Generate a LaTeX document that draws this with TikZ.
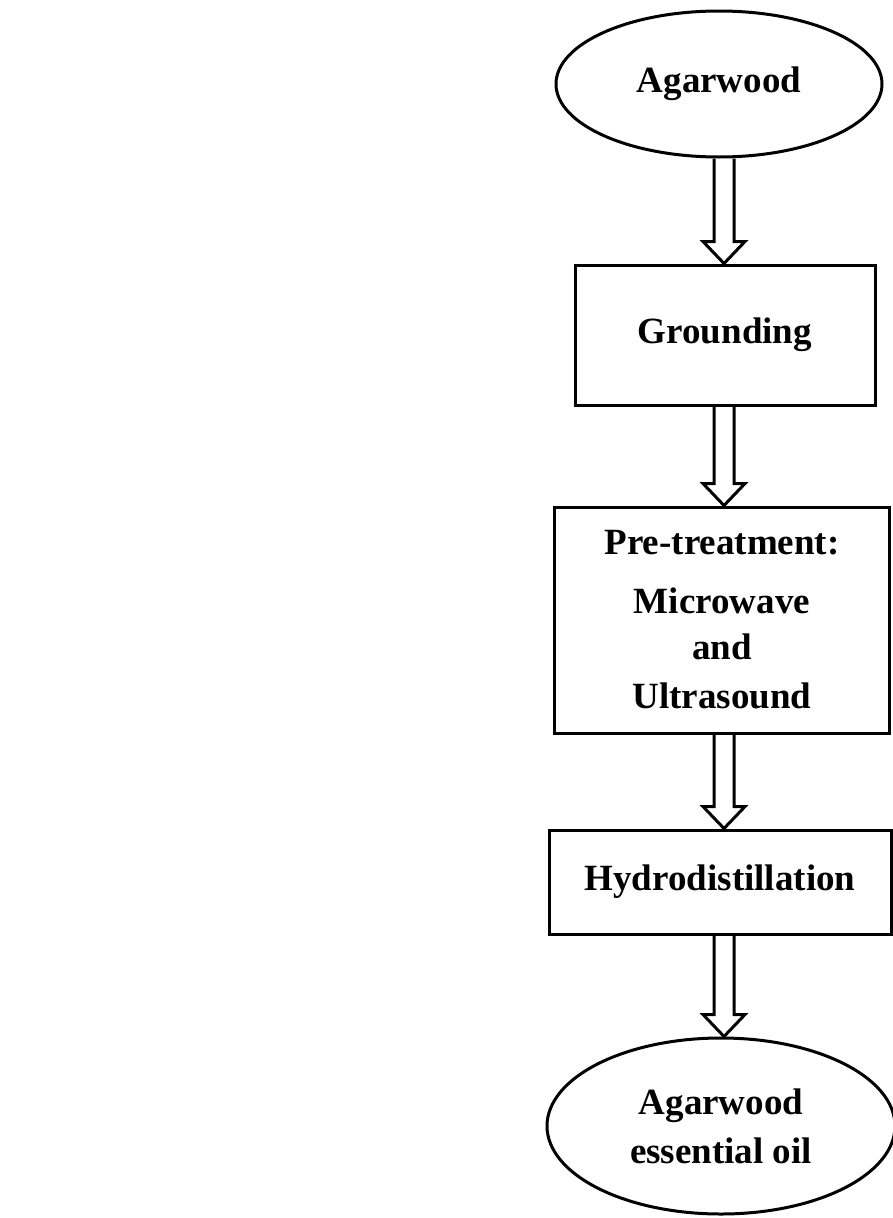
\documentclass[tikz,border=0pt]{standalone}
\usepackage{fontspec}
\setmainfont{Liberation Serif}
\usetikzlibrary{shapes.geometric,calc}
\tikzset{
  flowtext/.style={font=\fontsize{37}{49}\selectfont\bfseries, align=center, inner sep=0pt},
  ellbox/.style={draw, ellipse, line width=3pt, flowtext},
  rectbox/.style={draw, rectangle, line width=3pt, flowtext},
  blockarrow/.style={draw, line width=3pt, line join=miter}
}
\newcommand{\hollowarrow}[2]{%
  \draw[blockarrow] ($(#1)+(-10,0)$) -- ($(#2)+(-10,-22)$) -- ($(#2)+(-21,-22)$) -- (#2)
    -- ($(#2)+(21,-22)$) -- ($(#2)+(10,-22)$) -- ($(#1)+(10,0)$);%
}
\begin{document}
\begin{tikzpicture}[x=1pt,y=-1pt]
\useasboundingbox (0,0) rectangle (892,1218);
\fill[white] (0,0) rectangle (892,1218);
\coordinate (axis) at (724,0);

\node[ellbox, minimum width=326, minimum height=146] (agar) at (719,84) {Agarwood};
\node[rectbox, minimum width=300, minimum height=140] (grind) at (725,335) {Grounding};
\node[rectbox, minimum width=335, minimum height=226] (pre) at (722,620)
  {Pre-treatment:\\[10pt]Microwave\\[-3pt]and\\Ultrasound};
\node[rectbox, minimum width=342, minimum height=104] (hydro) at (720,882) {Hydrodistillation};
\node[ellbox, minimum width=348, minimum height=176] (oil) at (721,1126)
  {Agarwood\\essential oil};

\coordinate (a1s) at (agar.south -| axis);
\coordinate (a1e) at (grind.north -| axis);
\coordinate (a2s) at (grind.south -| axis);
\coordinate (a2e) at (pre.north -| axis);
\coordinate (a3s) at (pre.south -| axis);
\coordinate (a3e) at (hydro.north -| axis);
\coordinate (a4s) at (hydro.south -| axis);
\coordinate (a4e) at (oil.north -| axis);

\hollowarrow{a1s}{a1e}
\hollowarrow{a2s}{a2e}
\hollowarrow{a3s}{a3e}
\hollowarrow{a4s}{a4e}
\end{tikzpicture}
\end{document}
